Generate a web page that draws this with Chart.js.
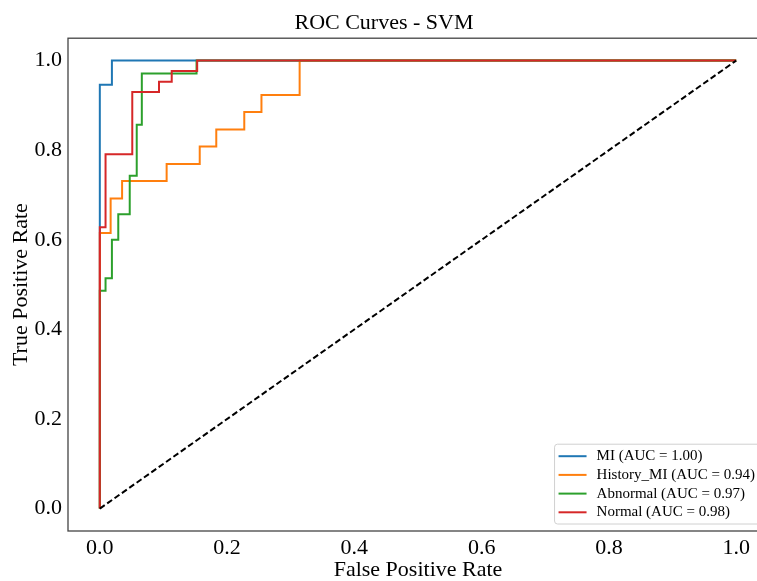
<!DOCTYPE html>
<html>
<head>
<meta charset="utf-8">
<script src="https://cdn.jsdelivr.net/npm/chart.js@4/dist/chart.umd.min.js"></script>
<style>
  html, body { margin: 0; padding: 0; background: #fff; overflow: hidden; }
  #wrap { width: 800px; height: 581px; }
</style>
</head>
<body>
<div id="wrap"><canvas id="roc" width="800" height="581"></canvas></div>
<script>
// ROC data (corner points of each step curve)
const miFpr = [0, 0, 0.019, 0.019, 1];
const miTpr = [0, 0.946, 0.946, 1, 1];

const historyFpr = [0, 0, 0.017, 0.017, 0.035, 0.035, 0.105, 0.105, 0.157, 0.157, 0.183, 0.183, 0.227, 0.227, 0.254, 0.254, 0.314, 0.314, 1];
const historyTpr = [0, 0.615, 0.615, 0.692, 0.692, 0.731, 0.731, 0.769, 0.769, 0.808, 0.808, 0.846, 0.846, 0.885, 0.885, 0.923, 0.923, 1, 1];

const abnormalFpr = [0, 0, 0.009, 0.009, 0.019, 0.019, 0.029, 0.029, 0.047, 0.047, 0.058, 0.058, 0.066, 0.066, 0.152, 0.152, 1];
const abnormalTpr = [0, 0.486, 0.486, 0.514, 0.514, 0.600, 0.600, 0.657, 0.657, 0.743, 0.743, 0.857, 0.857, 0.971, 0.971, 1, 1];

const normalFpr = [0, 0, 0.009, 0.009, 0.051, 0.051, 0.093, 0.093, 0.113, 0.113, 0.153, 0.153, 1];
const normalTpr = [0, 0.628, 0.628, 0.791, 0.791, 0.930, 0.930, 0.953, 0.953, 0.977, 0.977, 1, 1];

const chanceX = [0, 1];
const chanceY = [0, 1];

const classNames = ['MI', 'History_MI', 'Abnormal', 'Normal'];
const aucValues = [1.00, 0.94, 0.97, 0.98];
const xTicks = [0, 0.2, 0.4, 0.6, 0.8, 1.0];
const yTicks = [0, 0.2, 0.4, 0.6, 0.8, 1.0];

const serif = '"Liberation Serif", "Times New Roman", serif';
const toPoints = (xs, ys) => xs.map((x, i) => ({ x: x, y: ys[i] }));

const curves = [
  { fpr: miFpr, tpr: miTpr, color: '#1f77b4' },
  { fpr: historyFpr, tpr: historyTpr, color: '#ff7f0e' },
  { fpr: abnormalFpr, tpr: abnormalTpr, color: '#2ca02c' },
  { fpr: normalFpr, tpr: normalTpr, color: '#d62728' }
];

const datasets = curves.map((c, i) => ({
  label: classNames[i] + ' (AUC = ' + aucValues[i].toFixed(2) + ')',
  data: toPoints(c.fpr, c.tpr),
  borderColor: c.color,
  backgroundColor: c.color,
  borderWidth: 2,
  pointRadius: 0,
  tension: 0,
  fill: false,
  order: curves.length - i
}));
datasets.push({
  label: 'chance',
  data: toPoints(chanceX, chanceY),
  borderColor: '#000',
  borderWidth: 2,
  borderDash: [6, 3],
  pointRadius: 0,
  fill: false,
  order: 0,
  hideInLegend: true
});

// frame round the plot area, like matplotlib spines
const frame = {
  id: 'frame',
  beforeDatasetsDraw(chart) {
    const { ctx, chartArea: a } = chart;
    ctx.save();
    ctx.strokeStyle = '#444';
    ctx.lineWidth = 1.3;
    ctx.strokeRect(a.left, a.top, a.right - a.left, a.bottom - a.top);
    ctx.restore();
  }
};

// legend box at lower right inside the axes
const boxLegend = {
  id: 'boxLegend',
  afterDraw(chart) {
    const { ctx, chartArea: a } = chart;
    const items = chart.data.datasets.filter(d => !d.hideInLegend);
    ctx.save();
    ctx.font = '15px ' + serif;
    const textW = Math.max(...items.map(d => ctx.measureText(d.label).width));
    const rowH = 18.7;
    const w = 4 + 28 + 10 + textW + 6;
    const h = items.length * rowH + 5;
    const right = a.right - 7;
    const bottom = a.bottom - 7;
    const left = right - w;
    const top = bottom - h;
    ctx.fillStyle = 'rgba(255,255,255,0.8)';
    ctx.strokeStyle = '#d0d0d0';
    ctx.lineWidth = 1;
    ctx.beginPath();
    ctx.roundRect(left, top, w, h, 3);
    ctx.fill();
    ctx.stroke();
    items.forEach((d, i) => {
      const y = top + 12 + i * rowH;
      ctx.strokeStyle = d.borderColor;
      ctx.lineWidth = 2;
      ctx.beginPath();
      ctx.moveTo(left + 4, y);
      ctx.lineTo(left + 32, y);
      ctx.stroke();
      ctx.fillStyle = '#000';
      ctx.textBaseline = 'middle';
      ctx.fillText(d.label, left + 42, y);
    });
    ctx.restore();
  }
};

new Chart(document.getElementById('roc'), {
  type: 'line',
  data: { datasets: datasets },
  plugins: [frame, boxLegend],
  options: {
    responsive: false,
    animation: false,
    layout: { padding: { left: 0, right: 32, top: 0, bottom: 0 } },
    plugins: {
      legend: { display: false },
      tooltip: { enabled: false },
      title: {
        display: true,
        text: 'ROC Curves - SVM',
        color: '#000',
        font: { family: serif, size: 22, weight: 'normal', lineHeight: 1.2 },
        padding: { top: 10, bottom: 1.8 }
      }
    },
    scales: {
      x: {
        type: 'linear',
        min: -0.05,
        max: 1.05,
        afterBuildTicks: scale => { scale.ticks = xTicks.map(v => ({ value: v })); },
        afterFit: scale => { scale.height = 50; },
        grid: { display: false, drawTicks: false },
        border: { display: false },
        ticks: {
          padding: 4,
          color: '#000',
          font: { family: serif, size: 22 },
          callback: v => v.toFixed(1)
        },
        title: {
          display: true,
          text: 'False Positive Rate',
          color: '#000',
          font: { family: serif, size: 22, lineHeight: 1.0 },
          padding: { top: 0, bottom: 0 }
        }
      },
      y: {
        type: 'linear',
        min: -0.05,
        max: 1.05,
        afterBuildTicks: scale => { scale.ticks = yTicks.map(v => ({ value: v })); },
        afterFit: scale => { scale.width = 68; },
        grid: { display: false, drawTicks: false },
        border: { display: false },
        ticks: {
          padding: 6,
          color: '#000',
          font: { family: serif, size: 22 },
          callback: v => v.toFixed(1)
        },
        title: {
          display: true,
          text: 'True Positive Rate',
          color: '#000',
          font: { family: serif, size: 22, lineHeight: 1.2 },
          padding: { top: 8, bottom: 0 }
        }
      }
    }
  }
});
</script>
</body>
</html>
